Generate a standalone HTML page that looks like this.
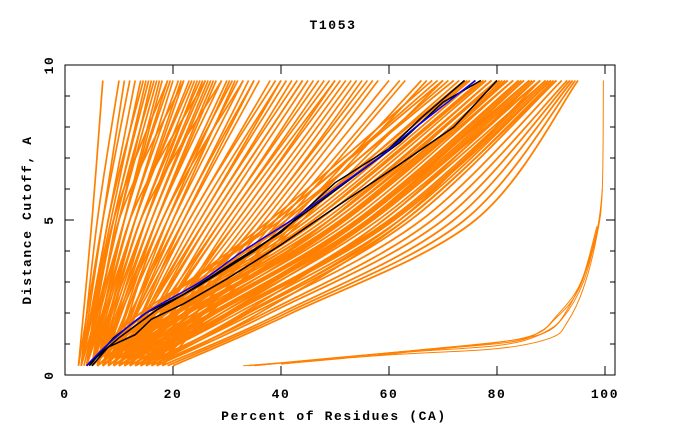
<!DOCTYPE html>
<html><head><meta charset="utf-8"><style>
body{margin:0;background:#fff}
svg{display:block}
text{font-family:"Liberation Mono",monospace;font-weight:bold;font-size:13px;letter-spacing:1.6px;fill:#000}
</style></head><body>
<svg id="chart" width="680" height="440">
<text x="333" y="29" text-anchor="middle">T1053</text>
<g id="lines" clip-path="url(#clip)"></g>
<clipPath id="clip"><rect x="65" y="65" width="550" height="310"/></clipPath>
<rect x="65" y="65" width="550" height="310" fill="none" stroke="#000" stroke-width="1"/>
<g id="axes"></g>
<text x="334" y="420" text-anchor="middle">Percent of Residues (CA)</text>
<text transform="translate(31,220) rotate(-90)" text-anchor="middle">Distance Cutoff, A</text>
</svg>
<script>
const xTicks=[0,20,40,60,80,100];
const yTicks=[0,5,10];
const yMinor=[1,2,3,4,6,7,8,9];
// fan lines: x at y=0.3, y=5, y=9.5
const fanY=[0.3,5,9.5];
const fanLines=[[2.5,5,7],[3,6,10],[2.5,7,12],[3,8,13],[3,8.5,14],[3,9,15],[3.5,10,16],[4,10,17],[3,11,18],[4,11,19],[4,12,20],[5,12,21],[4,13,22],[5,13,23],[5,14,24],[6,14,25],[5,15,26],[6,16,27],[6,17,28],[7,17,29],[6,18,30],[7,19,32],[8,20,33],[7,21,34],[8,22,36],[8,23,38],[9,25,40],[9,26,42],[10,27,44],[10,29,46],[11,30,48],[11,32,50],[12,33,52],[13,35,54],[12,36,55],[14,38,58],[15,40,62],[16,42,66],[17,44,70],[5,11,17.5],[6,13,21.5],[7,15,24.5],[8,17,27.5],[9,19,30.5],[10,22,35],[4,9,19],[5,10,22],[6,12,26],[7,14,29],[9,18,33],[10,24,40],[12,28,45],[14,31,50],[11,26,43],[13,34,53],
[3,7,11],[4,9,15.5],[5,11,19.5],[6,13,23.5],[7,16,26.5],[8,18,31],[9,21,35],[10,23,39],[11,27,44],[12,30,49],[13,32,51],[14,36,56],[15,37,57],[16,39,60],[17,41,63],[18,43,67],[12,29,47],[10,25,41],[9,20,31.5],[6,15,25.5],[5,9.5,16.5],[4,8,14.5]];
// band lines: x at y=0.3,2,5,9.5
const bandY=[0.3,2,5,9.5];
const bandLines=[[4,14,40,72],[5,16,42,74],[5,17,44,75],[6,18,45,76],[6,19,47,78],[7,20,48,79],[7,21,50,80],[8,22,51,81],[8,23,52,82],[9,24,53,83],[9,25,54,84],[10,26,55,85],[10,27,56,86],[11,28,57,87],[12,29,58,88],[12,30,60,89],[13,31,61,90],[13,32,62,90],[14,34,64,91],[15,35,66,92],[16,37,68,93],[18,40,72,94],[20,42,76,95],[6,20,46,77],[8,21,49,80],[9,23,50,82],[11,26,54,84],[12,28,55,86],[14,30,57,88],[15,33,59,89],[17,36,63,91],[5,15,38,68],[6,17,39,70],[7,18,41,71],[7,19,43,73],[9,22,46,77],[10,24,49,79],[11,25,52,83],[13,29,56,85],[14,31,59,87],[16,34,62,88],
[6,18.5,46,77.5],[7,20.5,49,80.5],[8,22.5,51.5,81.5],[10,25.5,54.5,84.5],[11,27.5,56.5,86.5],[13,30.5,60.5,89.5],[15,33.5,63,90.5],[17,38,70,93.5],[19,41,74,94.5],[5,16.5,43,74.5],[4,15,39,69]];
// lower-right group
const lowLines=[
[[33,0.3],[60,0.65],[80,0.85],[90,1.2],[93,1.7],[96,2.8],[98.5,4.5],[99.5,6],[99.7,9.5]],
[[35,0.3],[60,0.7],[80,0.95],[88,1.3],[92,1.8],[96,3],[98.7,4.8],[99.5,6]],
[[34,0.3],[62,0.75],[82,1.05],[88,1.4],[91,1.9],[95,2.8],[98,4.2],[99.3,5.5]],
[[36,0.32],[65,0.8],[84,1.15],[90,1.5],[93,2.1],[96,3.2],[98.5,4.8]],
[[40,0.35],[66,0.78],[85,1.2],[91,1.85],[95.5,2.9],[99,5]]];
const blackLines=[
[[4.5,0.3],[9,1.2],[15,2],[22,2.6],[30,3.5],[40,4.6],[50,6.2],[60,7.3],[66,8.3],[72,9.2],[74,9.5]],
[[5,0.3],[8,0.9],[13,1.3],[16,1.8],[22,2.3],[30,3.1],[40,4.2],[50,5.4],[62,6.8],[72,8],[80,9.5]],
[[4,0.3],[10,1.2],[17,2.1],[25,2.9],[35,4],[45,5.3],[55,6.6],[62,7.5],[70,8.8],[77,9.5]]];
const blueLine=[[4,0.3],[8,1],[15,2],[25,3],[33,4],[42,5],[50,6],[58,7],[65,8],[76,9.5]];

const NS="http://www.w3.org/2000/svg";
const X=v=>65+v*5.4, Y=v=>375-v*31;
const g=document.getElementById('lines'), ax=document.getElementById('axes');
function poly(pts,col,w,name,smooth){
  const P=pts.map(q=>[X(q[0]),Y(q[1])]);
  let d='M'+P[0][0].toFixed(1)+','+P[0][1].toFixed(1);
  for(let i=0;i<P.length-1;i++){
    if(!smooth){d+=' L'+P[i+1][0].toFixed(1)+','+P[i+1][1].toFixed(1);continue;}
    const p0=P[Math.max(i-1,0)],p1=P[i],p2=P[i+1],p3=P[Math.min(i+2,P.length-1)];
    const c1=[p1[0]+(p2[0]-p0[0])/6,p1[1]+(p2[1]-p0[1])/6];
    const c2=[p2[0]-(p3[0]-p1[0])/6,p2[1]-(p3[1]-p1[1])/6];
    d+=' C'+c1.map(v=>v.toFixed(1))+' '+c2.map(v=>v.toFixed(1))+' '+p2.map(v=>v.toFixed(1));
  }
  const p=document.createElementNS(NS,'path');
  p.setAttribute('d',d);
  p.setAttribute('fill','none');p.setAttribute('stroke',col);p.setAttribute('stroke-width',w);
  
  
  g.appendChild(p);
}
fanLines.forEach(r=>poly(r.map((x,i)=>[x,fanY[i]]),'#ff8000',1.7,'model-curve',true));
bandLines.forEach(r=>poly(r.map((x,i)=>[x,bandY[i]]),'#ff8000',1.8,'model-curve',true));
lowLines.forEach(r=>poly(r,'#ff8000',1,'model-curve',true));
blackLines.forEach(r=>poly(r,'#000',1.5,'reference-curve',false));
poly(blueLine,'#0000ff',1.5,'target-curve',true);
function line(x1,y1,x2,y2,name){
  const l=document.createElementNS(NS,'line');
  l.setAttribute('x1',x1);l.setAttribute('y1',y1);l.setAttribute('x2',x2);l.setAttribute('y2',y2);
  l.setAttribute('stroke','#000');
  
  
  ax.appendChild(l);
}
function txt(x,y,s,anchor,name){
  const t=document.createElementNS(NS,'text');
  t.setAttribute('x',x);t.setAttribute('y',y);t.setAttribute('text-anchor',anchor);t.textContent=s;
  
  
  ax.appendChild(t);
}
xTicks.forEach(v=>{line(X(v),375,X(v),366,'x-tick');line(X(v),65,X(v),74,'x-tick-top');txt(X(v),398,String(v),'middle','x-tick-label');});
yTicks.forEach(v=>{line(65,Y(v),74,Y(v),'y-tick');line(615,Y(v),606,Y(v),'y-tick-right');
  const t=document.createElementNS(NS,'text');
  t.setAttribute('transform','translate(53,'+Y(v)+') rotate(-90)');t.setAttribute('text-anchor','middle');t.textContent=String(v);
  
  
  ax.appendChild(t);});
yMinor.forEach(v=>{line(65,Y(v),70,Y(v),'y-minor-tick');line(615,Y(v),610,Y(v),'y-minor-tick-right');});
</script>
</body></html>
